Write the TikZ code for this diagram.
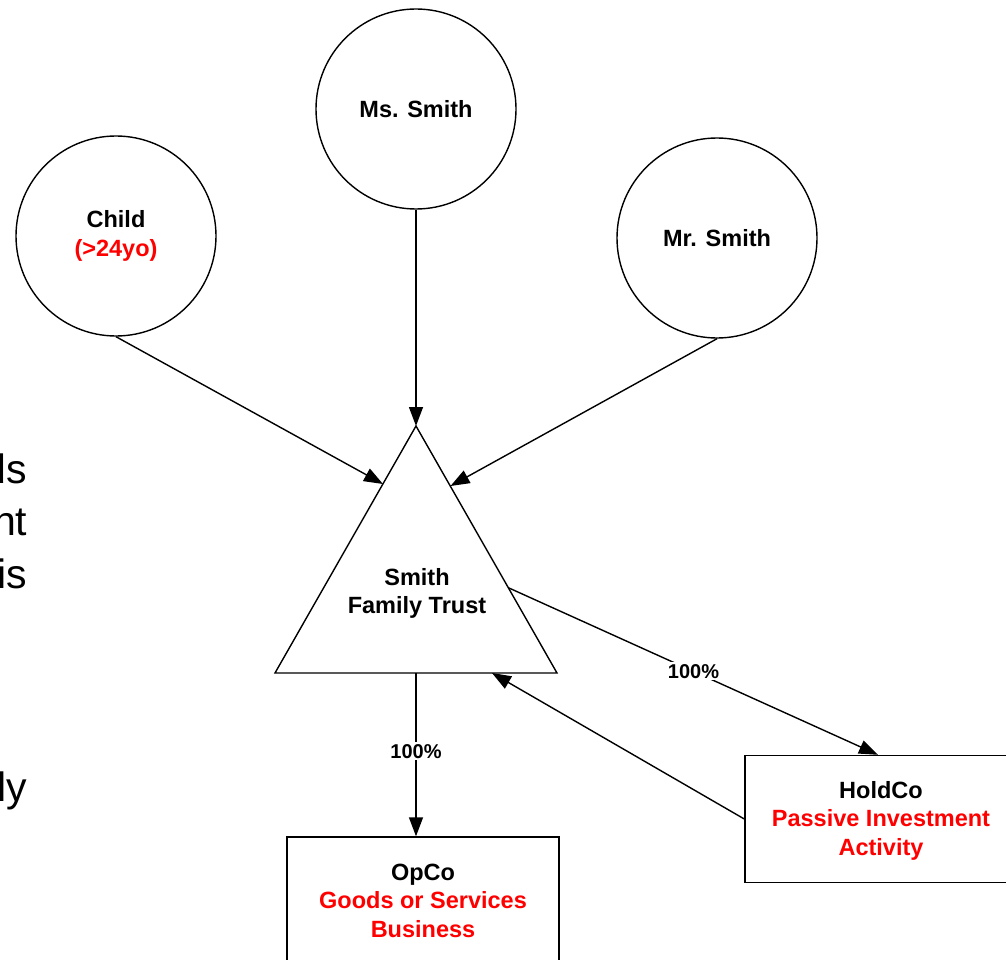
\documentclass[tikz,border=0pt]{standalone}
\usepackage{fontspec}
\setmainfont{Liberation Sans}
\usetikzlibrary{arrows.meta,calc}
\definecolor{accent}{RGB}{255,0,0}
\begin{document}
\begin{tikzpicture}[x=1pt,y=-1pt,
  line width=1.4pt,
  labelfont/.style={font=\bfseries\fontsize{23.5}{28.5}\selectfont},
  party/.style={draw, circle, minimum size=200pt, inner sep=0pt, align=center, labelfont},
  entity/.style={draw, rectangle, minimum width=272pt, minimum height=127pt, inner sep=0pt, align=center, labelfont},
  own/.style={-{Triangle[length=19pt,width=14pt]}},
  pct/.style={fill=white, inner sep=2pt, font=\bfseries\fontsize{20}{24}\selectfont},
  note/.style={anchor=base east, inner sep=0pt, font=\fontsize{41}{49}\selectfont}]
\useasboundingbox (0,0) rectangle (1006,960);
\clip (0,0) rectangle (1006,960);

% text running in from the left column
\node[note] (n1) at (28,483) {ds};
\node[note] (n2) at (28,535) {nt};
\node[note] (n3) at (28,588) {is};
\node[note] (n4) at (28,801) {ly};

% beneficiaries
\node[party] (child) at (116,236) {Child\\\textcolor{accent}{(>24yo)}};
\node[party] (ms) at (416,109) {Ms. Smith};
\node[party] (mr) at (717,238) {Mr. Smith};

% the trust
\draw (416,426) -- (557,673) -- (275,673) -- cycle;
\node[labelfont, align=center] (trust) at (417,593.5) {Smith\\Family Trust};
\coordinate (tl) at (383,484);
\coordinate (tr) at (450.5,486);
\coordinate (ta) at (416,426);
\coordinate (tout) at (509,588);
\coordinate (tb) at (416,673);
\coordinate (tin) at (492,673);

% companies
\node[entity] (opco) at (423,900.5) {OpCo\\\textcolor{accent}{Goods or Services}\\\textcolor{accent}{Business}};
\node[entity] (hold) at (881,819) {};
\node[labelfont, align=center] (holdtext) at (881,820.5) {HoldCo\\\textcolor{accent}{Passive Investment}\\\textcolor{accent}{Activity}};

% connectors
\draw[own] (child.south) -- (tl);
\draw[own] (ms.south) -- (ta);
\draw[own] (mr.south) -- (tr);
\draw[own] (tout) -- node[pct, pos=0.5] {100\%} ($(hold.north)+(-3,0)$);
\draw[own] (tb) -- node[pct, pos=0.48] {100\%} (tb |- opco.north);
\draw[own] (hold.west) -- (tin);
\end{tikzpicture}
\end{document}
